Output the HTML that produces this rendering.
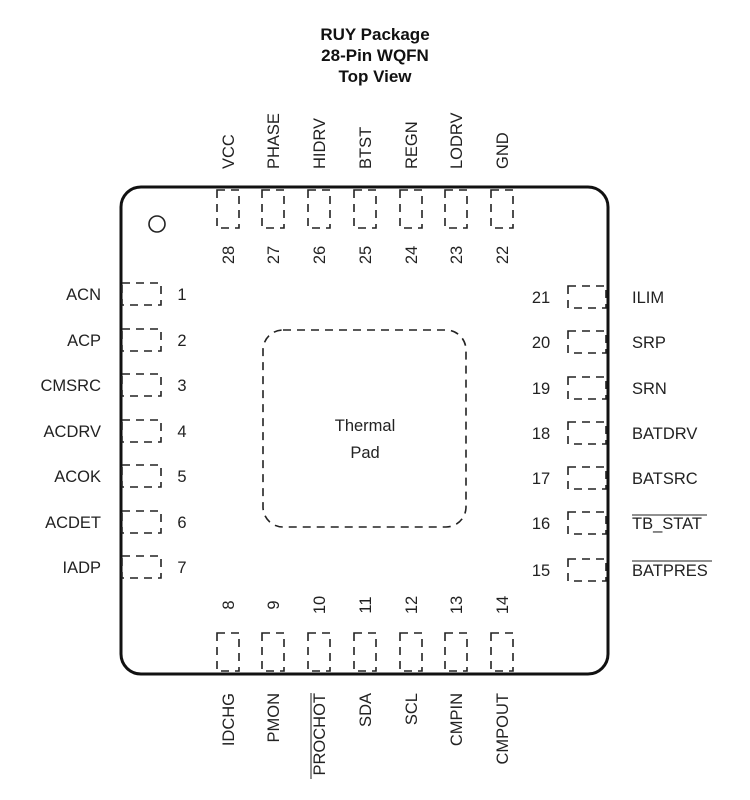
<!DOCTYPE html>
<html><head><style>
html,body{margin:0;padding:0;background:#fff;}
svg{display:block;font-family:"Liberation Sans",Arial,sans-serif;}
text{fill:#222;font-size:16.5px;}
.t{font-weight:bold;font-size:17px;fill:#111;}
.pin{fill:none;stroke:#222;stroke-width:1.6;stroke-dasharray:8,6;}
</style></head><body>
<svg width="750" height="800" viewBox="0 0 750 800" xmlns="http://www.w3.org/2000/svg">
<text class="t" x="375" y="40" text-anchor="middle">RUY Package</text>
<text class="t" x="375" y="61" text-anchor="middle">28-Pin WQFN</text>
<text class="t" x="375" y="82" text-anchor="middle">Top View</text>

<rect x="121" y="187" width="487" height="487" rx="20" fill="none" stroke="#111" stroke-width="3"/>
<circle cx="157" cy="224" r="8" fill="none" stroke="#222" stroke-width="1.6"/>

<rect x="263" y="330" width="203" height="197" rx="20" class="pin"/>
<text x="365" y="431" text-anchor="middle">Thermal</text>
<text x="365" y="458" text-anchor="middle">Pad</text>

<g>
<rect class="pin" x="217" y="190" width="22" height="38"/>
<rect class="pin" x="262" y="190" width="22" height="38"/>
<rect class="pin" x="308" y="190" width="22" height="38"/>
<rect class="pin" x="354" y="190" width="22" height="38"/>
<rect class="pin" x="400" y="190" width="22" height="38"/>
<rect class="pin" x="445" y="190" width="22" height="38"/>
<rect class="pin" x="491" y="190" width="22" height="38"/>
</g>
<g>
<text transform="translate(234,169) rotate(-90)">VCC</text>
<text transform="translate(279,169) rotate(-90)">PHASE</text>
<text transform="translate(325,169) rotate(-90)">HIDRV</text>
<text transform="translate(371,169) rotate(-90)">BTST</text>
<text transform="translate(417,169) rotate(-90)">REGN</text>
<text transform="translate(462,169) rotate(-90)">LODRV</text>
<text transform="translate(508,169) rotate(-90)">GND</text>
<text transform="translate(234,255) rotate(-90)" text-anchor="middle">28</text>
<text transform="translate(279,255) rotate(-90)" text-anchor="middle">27</text>
<text transform="translate(325,255) rotate(-90)" text-anchor="middle">26</text>
<text transform="translate(371,255) rotate(-90)" text-anchor="middle">25</text>
<text transform="translate(417,255) rotate(-90)" text-anchor="middle">24</text>
<text transform="translate(462,255) rotate(-90)" text-anchor="middle">23</text>
<text transform="translate(508,255) rotate(-90)" text-anchor="middle">22</text>
</g>

<g>
<rect class="pin" x="217" y="633" width="22" height="38"/>
<rect class="pin" x="262" y="633" width="22" height="38"/>
<rect class="pin" x="308" y="633" width="22" height="38"/>
<rect class="pin" x="354" y="633" width="22" height="38"/>
<rect class="pin" x="400" y="633" width="22" height="38"/>
<rect class="pin" x="445" y="633" width="22" height="38"/>
<rect class="pin" x="491" y="633" width="22" height="38"/>
</g>
<g>
<text transform="translate(234,605) rotate(-90)" text-anchor="middle">8</text>
<text transform="translate(279,605) rotate(-90)" text-anchor="middle">9</text>
<text transform="translate(325,605) rotate(-90)" text-anchor="middle">10</text>
<text transform="translate(371,605) rotate(-90)" text-anchor="middle">11</text>
<text transform="translate(417,605) rotate(-90)" text-anchor="middle">12</text>
<text transform="translate(462,605) rotate(-90)" text-anchor="middle">13</text>
<text transform="translate(508,605) rotate(-90)" text-anchor="middle">14</text>
<text transform="translate(234,693) rotate(-90)" text-anchor="end">IDCHG</text>
<text transform="translate(279,693) rotate(-90)" text-anchor="end">PMON</text>
<text transform="translate(325,693) rotate(-90)" text-anchor="end">PROCHOT</text>
<line x1="311" y1="693" x2="311" y2="779" stroke="#222" stroke-width="1"/>
<text transform="translate(371,693) rotate(-90)" text-anchor="end">SDA</text>
<text transform="translate(417,693) rotate(-90)" text-anchor="end">SCL</text>
<text transform="translate(462,693) rotate(-90)" text-anchor="end">CMPIN</text>
<text transform="translate(508,693) rotate(-90)" text-anchor="end">CMPOUT</text>
</g>

<g>
<rect class="pin" x="122" y="283" width="39" height="22"/>
<rect class="pin" x="122" y="329" width="39" height="22"/>
<rect class="pin" x="122" y="374" width="39" height="22"/>
<rect class="pin" x="122" y="420" width="39" height="22"/>
<rect class="pin" x="122" y="465" width="39" height="22"/>
<rect class="pin" x="122" y="511" width="39" height="22"/>
<rect class="pin" x="122" y="556" width="39" height="22"/>
</g>
<g text-anchor="end">
<text x="101" y="300">ACN</text>
<text x="101" y="346">ACP</text>
<text x="101" y="391">CMSRC</text>
<text x="101" y="437">ACDRV</text>
<text x="101" y="482">ACOK</text>
<text x="101" y="528">ACDET</text>
<text x="101" y="573">IADP</text>
</g>
<g text-anchor="middle">
<text x="182" y="300">1</text>
<text x="182" y="346">2</text>
<text x="182" y="391">3</text>
<text x="182" y="437">4</text>
<text x="182" y="482">5</text>
<text x="182" y="528">6</text>
<text x="182" y="573">7</text>
</g>

<g>
<rect class="pin" x="568" y="286" width="38" height="22"/>
<rect class="pin" x="568" y="331" width="38" height="22"/>
<rect class="pin" x="568" y="377" width="38" height="22"/>
<rect class="pin" x="568" y="422" width="38" height="22"/>
<rect class="pin" x="568" y="467" width="38" height="22"/>
<rect class="pin" x="568" y="512" width="38" height="22"/>
<rect class="pin" x="568" y="559" width="38" height="22"/>
</g>
<g text-anchor="middle">
<text x="541" y="303">21</text>
<text x="541" y="348">20</text>
<text x="541" y="394">19</text>
<text x="541" y="439">18</text>
<text x="541" y="484">17</text>
<text x="541" y="529">16</text>
<text x="541" y="576">15</text>
</g>
<g>
<text x="632" y="303">ILIM</text>
<text x="632" y="348">SRP</text>
<text x="632" y="394">SRN</text>
<text x="632" y="439">BATDRV</text>
<text x="632" y="484">BATSRC</text>
<text x="632" y="529">TB_STAT</text>
<line x1="632" y1="515" x2="707" y2="515" stroke="#222" stroke-width="1"/>
<text x="632" y="576">BATPRES</text>
<line x1="632" y1="561" x2="712" y2="561" stroke="#222" stroke-width="1"/>
</g>
</svg>
</body></html>
